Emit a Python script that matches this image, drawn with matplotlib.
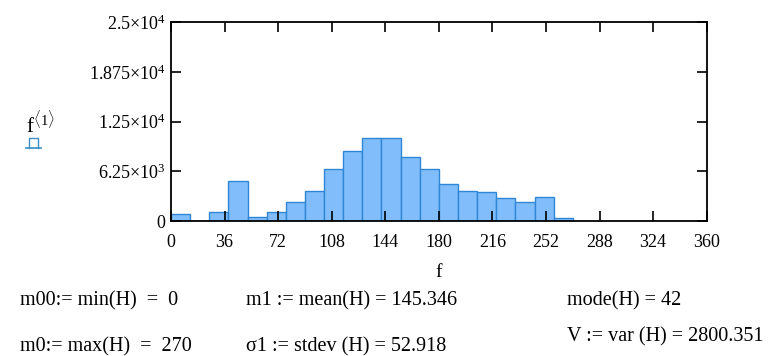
import numpy as np
import matplotlib.pyplot as plt
from matplotlib.lines import Line2D

plt.rcParams['font.family'] = ['Liberation Serif', 'DejaVu Serif']
plt.rcParams['mathtext.fontset'] = 'custom'
plt.rcParams['mathtext.rm'] = 'Liberation Serif'
plt.rcParams['mathtext.it'] = 'Liberation Serif'

# histogram of H: 21 intervals from 0 to 270
edges = np.linspace(0, 270, 22)
counts = [920, 0, 1130, 5070, 545, 1170, 2390, 3810, 6570, 8750, 10430,
          10430, 8000, 6570, 4690, 3810, 3640, 2850, 2390, 3010, 380]

xticks = [0, 36, 72, 108, 144, 180, 216, 252, 288, 324, 360]
yticks = [0, 6250, 12500, 18750, 25000]
ylabels = ['0', r'6.25$\times$10$^{3}$', r'1.25$\times$10$^{4}$',
           r'1.875$\times$10$^{4}$', r'2.5$\times$10$^{4}$']

stats_row1 = ['m00:= min(H)  =  0', 'm1 := mean(H) = 145.346', 'mode(H) = 42']
stats_row2 = ['m0:= max(H)  =  270', 'σ1 := stdev (H) = 52.918', 'V := var (H) = 2800.351']

fig = plt.figure(figsize=(7.74, 3.56), dpi=100)
ax = fig.add_axes([0.221, 0.379, 0.692, 0.559])

widths = np.diff(edges)
ax.bar(edges[:-1], counts, width=widths, align='edge',
       color='#80bdfa', edgecolor='#2f86d6', linewidth=1.0)

ax.set_xlim(0, 360)
ax.set_ylim(0, 25000)
ax.set_xticks(xticks)
ax.set_yticks(yticks)
ax.set_yticklabels(ylabels)
ax.tick_params(direction='in', top=True, right=True, length=7, width=1.2,
               labelsize=13, pad=4)
ax.tick_params(axis='x', pad=9)
for s in ax.spines.values():
    s.set_linewidth(1.3)

ax.set_xlabel('f', fontsize=14, labelpad=10)

# y label: f<1> with a small bar-trace marker beneath
fig.text(0.034, 0.627, r'f$^{\langle 1\rangle}$', fontsize=15, ha='left', va='baseline')
c = '#3a8fc8'
fig.add_artist(Line2D([0.034, 0.053], [0.585, 0.585], color=c, lw=1.2))
fig.add_artist(Line2D([0.038, 0.038, 0.049, 0.049], [0.585, 0.612, 0.612, 0.585], color=c, lw=1.0))

xs = [0.026, 0.318, 0.733]
for x, t in zip(xs, stats_row1):
    fig.text(x, 0.143, t, fontsize=14.5, ha='left', va='baseline')
ys2 = [0.013, 0.013, 0.04]
for x, t, y in zip(xs, stats_row2, ys2):
    fig.text(x, y, t, fontsize=14.5, ha='left', va='baseline')

fig.savefig('out.png', dpi=100)
